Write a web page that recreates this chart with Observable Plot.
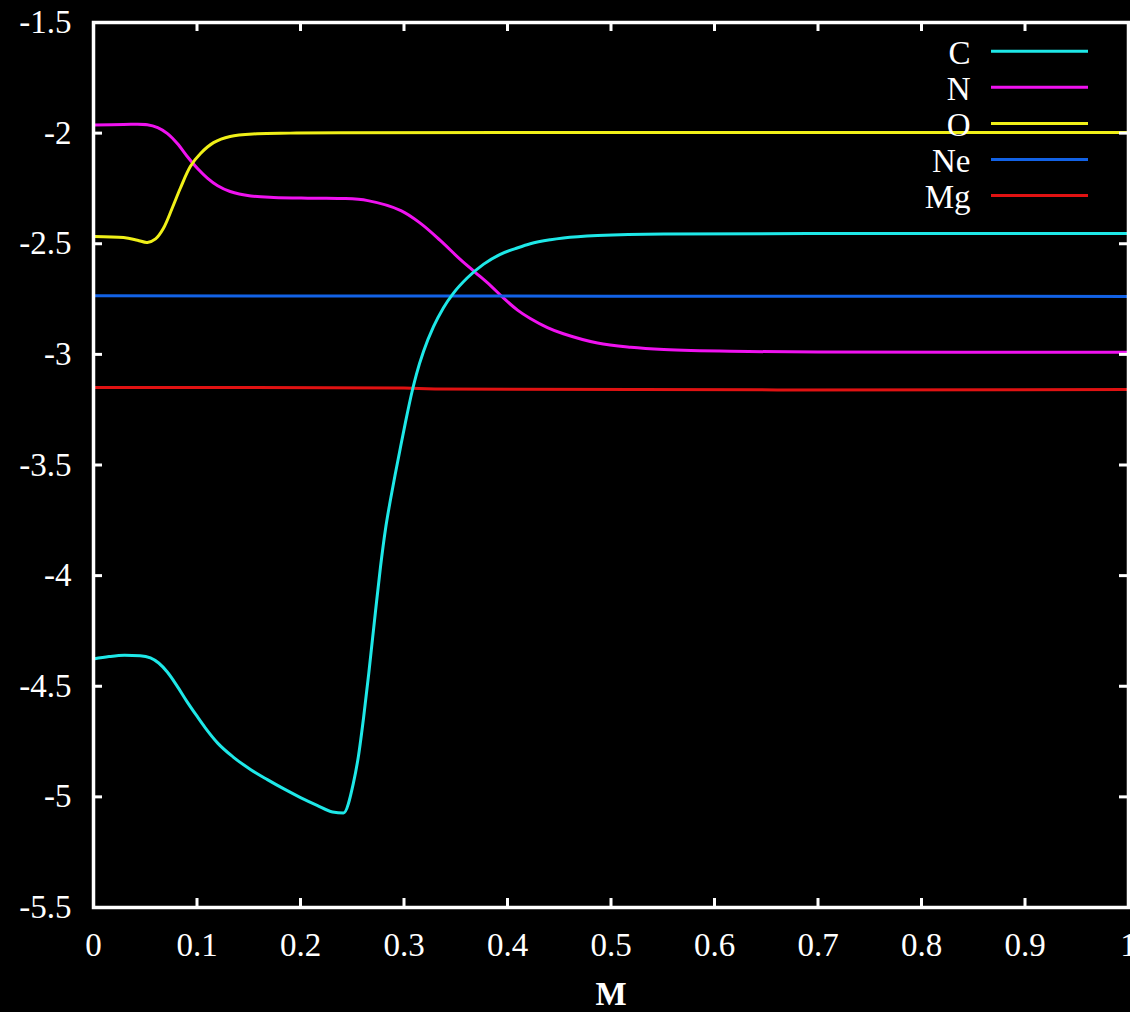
<!DOCTYPE html>
<html>
<head>
<meta charset="utf-8">
<script src="https://cdn.jsdelivr.net/npm/d3@7"></script>
<script src="https://cdn.jsdelivr.net/npm/@observablehq/plot@0.6"></script>
<style>
html, body { margin: 0; padding: 0; background: #000; overflow: hidden; }
svg text { font-family: 'Liberation Serif', 'Times New Roman', serif; }
</style>
</head>
<body>
<div id="chart"></div>
<script>
// ---- data ----
const seriesNames  = ["C", "N", "O", "Ne", "Mg"];
const seriesColors = ["#1ee8e8", "#f012f0", "#f0f018", "#1262e6", "#e01212"];

const cM = [0, 0.015, 0.03, 0.045, 0.055, 0.063, 0.0715, 0.0805, 0.09, 0.0995, 0.108, 0.120, 0.135, 0.152, 0.168, 0.184, 0.200, 0.216, 0.231, 0.2415, 0.251, 0.256, 0.261, 0.266, 0.2696, 0.2725, 0.2773, 0.2821, 0.287, 0.2918, 0.2966, 0.3015, 0.3082, 0.312, 0.319, 0.3285, 0.338, 0.348, 0.361, 0.377, 0.393, 0.410, 0.422, 0.4415, 0.454, 0.487, 0.551, 0.7, 1.0];
const cV = [-4.377, -4.366, -4.360, -4.362, -4.372, -4.395, -4.437, -4.497, -4.567, -4.632, -4.688, -4.757, -4.820, -4.877, -4.922, -4.964, -5.003, -5.038, -5.068, -5.073, -4.940, -4.815, -4.640, -4.440, -4.285, -4.160, -3.960, -3.790, -3.655, -3.535, -3.420, -3.305, -3.160, -3.090, -2.985, -2.875, -2.790, -2.722, -2.655, -2.592, -2.548, -2.518, -2.500, -2.482, -2.474, -2.463, -2.456, -2.454, -2.454];

const nM = [0, 0.029, 0.052, 0.062, 0.0715, 0.081, 0.091, 0.1005, 0.110, 0.120, 0.132, 0.152, 0.174, 0.207, 0.239, 0.265, 0.297, 0.316, 0.335, 0.3546, 0.369, 0.3836, 0.396, 0.4097, 0.422, 0.4386, 0.454, 0.487, 0.519, 0.551, 0.615, 0.7, 1.0];
const nV = [-1.963, -1.961, -1.962, -1.975, -2.002, -2.047, -2.108, -2.160, -2.203, -2.238, -2.264, -2.284, -2.291, -2.294, -2.295, -2.305, -2.350, -2.408, -2.485, -2.572, -2.630, -2.689, -2.745, -2.800, -2.838, -2.879, -2.907, -2.949, -2.968, -2.978, -2.986, -2.989, -2.990];

const oM = [0, 0.029, 0.0425, 0.052, 0.060, 0.0676, 0.0763, 0.084, 0.0937, 0.1034, 0.116, 0.132, 0.158, 0.190, 0.239, 0.4, 1.0];
const oV = [-2.467, -2.472, -2.484, -2.494, -2.478, -2.430, -2.336, -2.248, -2.150, -2.092, -2.043, -2.015, -2.003, -2.000, -1.998, -1.997, -1.997];

const neM = [0, 0.5, 1.0];
const neV = [-2.735, -2.737, -2.738];

const mgM = [0, 0.3, 0.33, 1.0];
const mgV = [-3.150, -3.152, -3.157, -3.159];

const xTicks = [0, 0.1, 0.2, 0.3, 0.4, 0.5, 0.6, 0.7, 0.8, 0.9, 1];
const xTickLabels = ["0", "0.1", "0.2", "0.3", "0.4", "0.5", "0.6", "0.7", "0.8", "0.9", "1"];
const yTicks = [-5.5, -5, -4.5, -4, -3.5, -3, -2.5, -2, -1.5];
const yTickLabels = ["-5.5", "-5", "-4.5", "-4", "-3.5", "-3", "-2.5", "-2", "-1.5"];
const xLabel = "M";

// ---- build table ----
const seriesM = [cM, nM, oM, neM, mgM];
const seriesV = [cV, nV, oV, neV, mgV];
const rows = seriesNames.flatMap((name, s) =>
  seriesM[s].map((m, i) => ({series: name, M: m, v: seriesV[s][i]})));

// ---- layout ----
const W = 1130, H = 1012;
const mL = 93, mR = 2, mT = 22, mB = 105;
const fw = W - mL - mR, fh = H - mT - mB;
const tickLen = 9;
const fontFamily = "'Liberation Serif', 'Times New Roman', serif";
const fs = 33;

const legendMarks = seriesNames.flatMap((name, i) => [
  Plot.ruleY([yTicks[yTicks.length - 1]], {
    stroke: seriesColors[i], strokeWidth: 3,
    dy: 28.7 + i * 36.1, insetLeft: 898, insetRight: 40
  }),
  Plot.text([name], {
    frameAnchor: "top-right", dx: -158, dy: 30.5 + i * 36.1,
    textAnchor: "end", lineAnchor: "middle", fill: "#fff", fontSize: fs, fontFamily
  })
]);

const chart = Plot.plot({
  width: W, height: H,
  marginLeft: mL, marginRight: mR, marginTop: mT, marginBottom: mB,
  style: {background: "#000", color: "#fff", fontFamily, fontSize: fs + "px", overflow: "visible"},
  x: {domain: [0, 1]},
  y: {domain: [-5.5, -1.5]},
  color: {domain: seriesNames, range: seriesColors},
  marks: [
    Plot.line(rows.filter(d => d.series !== "C"), {x: "M", y: "v", z: "series", stroke: "series", strokeWidth: 3, curve: "catmull-rom"}),
    Plot.line(rows.filter(d => d.series === "C"), {x: "M", y: "v", z: "series", stroke: "series", strokeWidth: 3, curve: "monotone-x"}),
    Plot.tickX(xTicks, {x: d => d, stroke: "#fff", strokeWidth: 3, insetTop: fh - tickLen}),
    Plot.tickX(xTicks, {x: d => d, stroke: "#fff", strokeWidth: 3, insetBottom: fh - tickLen}),
    Plot.tickY(yTicks, {y: d => d, stroke: "#fff", strokeWidth: 3, insetRight: fw - tickLen}),
    Plot.tickY(yTicks, {y: d => d, stroke: "#fff", strokeWidth: 3, insetLeft: fw - tickLen}),
    Plot.axisX({ticks: xTicks, tickFormat: d => xTickLabels[xTicks.indexOf(d)], tickSize: 0, tickPadding: 25, fontSize: fs, fontFamily, label: null}),
    Plot.axisY({ticks: yTicks, tickFormat: d => yTickLabels[yTicks.indexOf(d)], tickSize: 0, tickPadding: 22, fontSize: fs, fontFamily, label: null}),
    Plot.frame({stroke: "#fff", strokeWidth: 3.5}),
    Plot.text([xLabel], {frameAnchor: "bottom", dy: 87, lineAnchor: "middle", fill: "#fff", fontSize: fs, fontWeight: "bold", fontFamily}),
    ...legendMarks
  ]
});
document.getElementById("chart").appendChild(chart);
</script>
</body>
</html>
